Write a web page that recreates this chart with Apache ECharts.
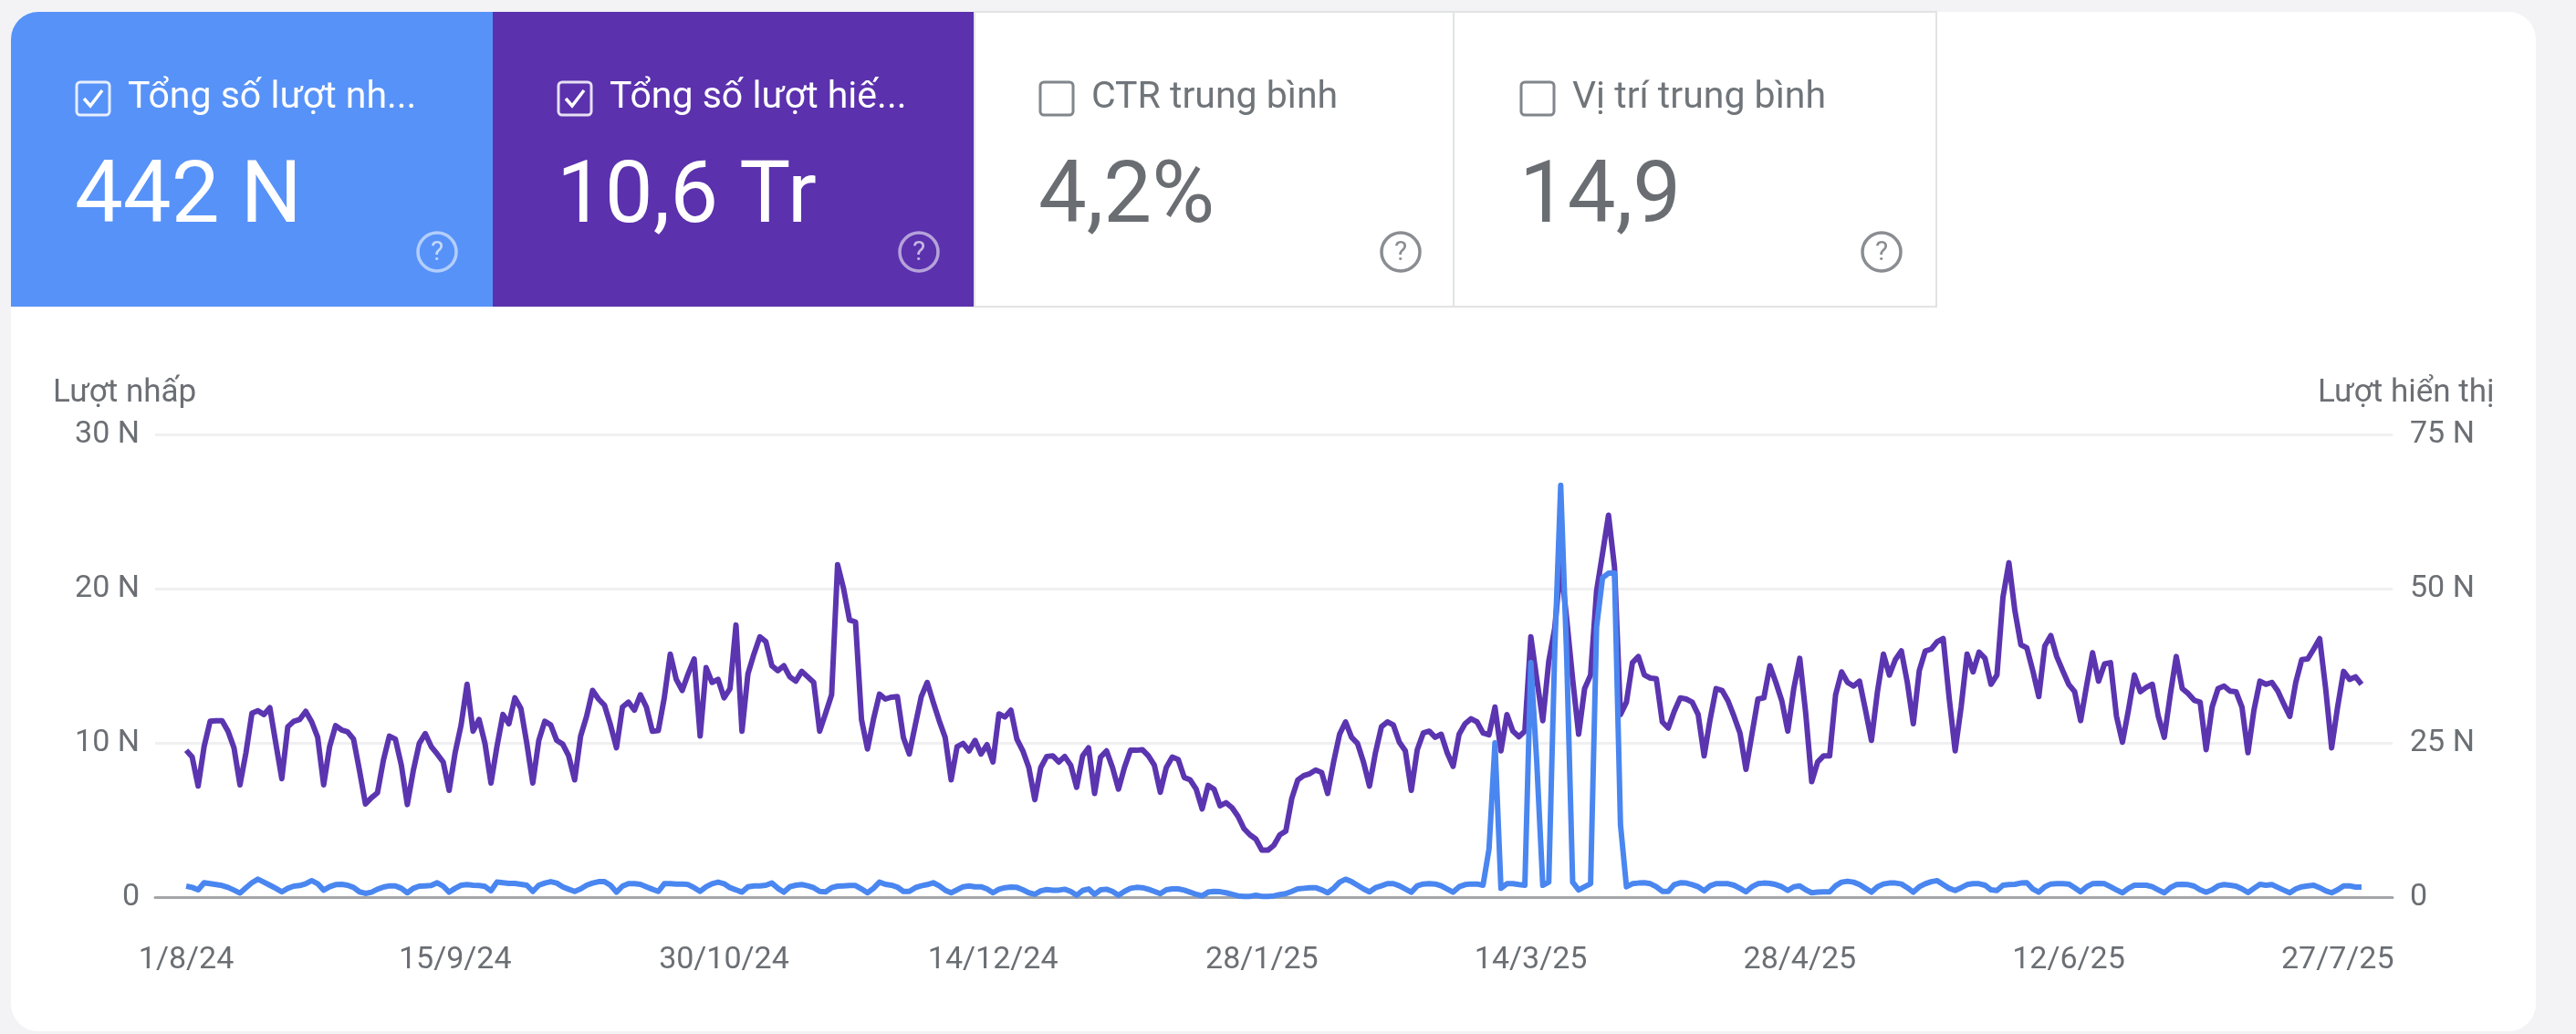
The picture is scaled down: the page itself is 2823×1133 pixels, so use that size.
<!DOCTYPE html>
<html>
<head>
<meta charset="utf-8">
<title>Search Console</title>
<script src="https://cdn.jsdelivr.net/npm/echarts@6/dist/echarts.min.js"></script>
<style>
html, body { margin: 0; padding: 0; background: #f3f3f6; }
#chart { width: 2823px; height: 1133px; }
</style>
</head>
<body>
<div id="chart"></div>
<script>
let tileTitles = ["Tổng số lượt nh...", "Tổng số lượt hiế...", "CTR trung bình", "Vị trí trung bình"];
let tileValues = ["442 N", "10,6 Tr", "4,2%", "14,9"];
let tileChecked = [true, true, false, false];
let tileColors = ["#5792f8", "#5b31ad", "#ffffff", "#ffffff"];

let dateLabels = ["1/8/24", "15/9/24", "30/10/24", "14/12/24", "28/1/25", "14/3/25", "28/4/25", "12/6/25", "27/7/25"];
let labelStep = 45; // một nhãn mỗi 45 ngày

let clicksName = "Lượt nhấp";
let impressionsName = "Lượt hiển thị";

// lượt nhấp theo ngày, đơn vị nghìn (trục trái)
let clicks = [
    .71,.63,.47,.93,.87,.81,.75,.63,.45,.26,
    .61,.93,1.16,.97,.77,.57,.34,.57,.71,.75,
    .87,1.07,.87,.45,.67,.81,.83,.77,.63,.34,
    .24,.32,.51,.65,.73,.73,.57,.28,.57,.71,
    .73,.75,.93,.71,.32,.57,.77,.81,.77,.75,
    .69,.41,.97,.93,.89,.89,.83,.77,.37,.77,
    .91,1.0,.91,.67,.51,.37,.53,.77,.91,1.0,
    1.0,.77,.32,.71,.87,.87,.83,.67,.51,.37,
    .87,.87,.85,.85,.81,.61,.37,.67,.87,.97,
    .87,.61,.47,.32,.67,.73,.73,.77,.91,.57,
    .32,.67,.77,.81,.73,.61,.37,.34,.61,.71,
    .73,.75,.75,.53,.28,.57,.97,.83,.77,.65,
    .37,.37,.61,.73,.81,.93,.73,.45,.28,.47,
    .67,.73,.67,.67,.53,.28,.51,.61,.65,.63,
    .47,.28,.18,.41,.49,.45,.45,.51,.37,.12,
    .43,.53,.18,.47,.51,.37,.12,.37,.57,.63,
    .61,.51,.37,.22,.47,.53,.53,.45,.32,.18,
    .08,.32,.37,.35,.28,.18,.08,.05,.05,.12,
    .05,.05,.08,.16,.22,.37,.53,.57,.61,.61,
    .47,.28,.57,.97,1.16,1.0,.77,.53,.34,.61,
    .73,.87,.87,.73,.53,.32,.73,.85,.87,.85,
    .73,.53,.32,.67,.81,.85,.85,.77,3.1,10.0,
    .57,.87,.87,.81,.77,15.2,8.7,.77,.97,16.0,
    26.7,15.6,.97,.47,.67,.87,17.5,20.7,21.0,21.0,
    4.7,.67,.87,.91,.93,.87,.67,.37,.37,.81,
    .93,.91,.81,.67,.41,.73,.87,.87,.87,.77,
    .57,.34,.67,.87,.91,.89,.81,.67,.43,.67,
    .73,.47,.28,.32,.34,.34,.73,.97,1.03,.97,
    .81,.57,.32,.67,.85,.91,.91,.85,.61,.32,
    .67,.87,1.0,1.07,.81,.57,.43,.61,.81,.87,
    .87,.77,.47,.43,.77,.81,.83,.91,.93,.53,
    .32,.67,.85,.87,.87,.85,.61,.34,.67,.87,
    .89,.87,.67,.47,.28,.57,.77,.77,.77,.67,
    .47,.28,.61,.81,.83,.81,.71,.47,.32,.47,
    .73,.81,.77,.71,.53,.30,.57,.83,.77,.81,
    .63,.45,.28,.53,.67,.73,.77,.61,.41,.28,
    .47,.73,.73,.65,.65
];

// lượt hiển thị theo ngày, đơn vị nghìn (trục phải)
let impressions = [
    23.8,22.7,18.0,24.4,28.5,28.6,28.6,26.9,24.2,18.2,
    23.4,29.8,30.2,29.6,30.7,24.9,19.2,27.6,28.5,28.8,
    30.1,28.4,25.9,18.2,24.4,27.8,27.1,26.8,25.6,20.5,
    15.1,16.1,16.9,22.2,26.1,25.6,21.4,15.0,20.5,24.9,
    26.5,24.4,23.2,21.9,17.3,23.4,27.9,34.5,26.9,28.8,
    24.9,18.5,24.4,29.6,28.1,32.3,30.6,24.9,18.5,25.4,
    28.5,27.9,25.4,24.8,22.9,19.0,26.1,29.3,33.5,32.1,
    31.1,27.9,24.2,30.8,31.6,30.3,32.8,30.8,26.9,27.0,
    32.3,39.4,35.3,33.5,36.2,38.6,26.1,37.2,34.8,35.3,
    32.3,33.8,44.1,26.9,36.2,39.4,42.2,41.4,37.5,36.7,
    37.5,35.7,35.0,36.6,35.7,34.8,26.9,29.8,32.8,53.9,
    50.0,44.9,44.6,28.8,24.0,28.8,32.9,32.1,32.4,32.5,
    25.9,23.2,27.9,32.5,34.8,31.6,28.6,25.9,19.0,24.4,
    24.9,23.7,25.4,23.2,24.7,21.9,29.7,29.2,30.3,25.6,
    23.7,21.0,15.8,21.0,22.8,22.9,21.9,22.8,21.4,17.8,
    22.9,24.2,16.8,22.7,23.7,21.0,17.5,21.0,23.8,23.8,
    23.9,22.9,21.4,17.0,21.0,22.7,22.3,19.4,19.0,17.5,
    14.3,18.1,17.5,14.8,15.3,14.5,13.1,11.1,10.1,9.4,
    7.6,7.6,8.4,10.1,10.7,16.0,19.0,19.7,20.0,20.6,
    20.2,16.8,21.9,26.4,28.4,25.9,24.9,21.9,18.0,23.4,
    27.6,28.4,27.9,25.1,23.7,17.3,23.9,26.6,26.9,25.9,
    26.4,23.4,21.2,26.4,28.1,28.9,28.4,26.6,26.3,30.8,
    23.7,29.6,26.9,26.0,26.9,42.2,35.3,28.6,38.2,43.6,
    54.0,45.1,35.3,26.4,33.8,36.0,49.6,55.7,61.9,53.5,
    29.6,31.6,38.0,39.0,36.0,35.5,35.4,28.4,27.4,30.1,
    32.3,32.1,31.6,29.6,22.9,28.8,33.8,33.5,31.8,29.3,
    26.6,20.7,26.4,32.1,32.3,37.5,34.8,31.8,26.9,33.8,
    38.7,29.8,18.7,21.9,22.9,22.9,32.8,36.5,34.8,34.2,
    35.0,30.3,25.4,33.3,39.4,36.0,38.5,39.9,34.8,28.1,
    36.7,39.9,40.2,41.4,41.9,32.3,23.7,30.8,39.4,36.5,
    39.7,38.7,34.5,36.0,48.6,54.2,46.4,40.9,40.4,36.7,
    32.5,40.7,42.4,39.0,36.7,34.5,33.3,28.6,34.3,39.6,
    35.0,37.8,38.0,29.3,25.1,30.3,36.0,33.3,34.0,34.5,
    29.3,25.9,32.8,39.0,33.8,33.0,31.9,31.6,23.9,30.8,
    33.8,34.2,33.4,33.3,30.8,23.4,30.3,35.0,34.5,34.8,
    33.4,31.3,29.3,34.8,38.5,38.6,40.2,41.9,33.8,24.2,
    30.8,36.6,35.3,35.7,34.5
];

let FONT = "Roboto";
let GRAY_TEXT = "#6b6f74";

function tileGraphics(i) {
    let edge = [12, 540, 1068, 1593][i];
    let right = [540, 1068, 1593, 2122][i];
    let left = i === 3 ? edge + 2 : edge;
    let top = 13, bottom = 336;
    let filled = tileChecked[i];
    let fg = filled ? "#ffffff" : "#70757a";
    let res = [];
    res.push({
        type: "rect",
        shape: { x: edge, y: top, width: right - edge, height: bottom - top, r: i === 0 ? [30, 0, 0, 0] : 0 },
        style: { fill: tileColors[i], stroke: filled ? null : "#e2e3e5", lineWidth: filled ? 0 : 2 }
    });
    // checkbox
    res.push({
        type: "rect",
        shape: { x: left + 72, y: 90, width: 36, height: 36, r: 4 },
        style: { fill: "none", stroke: filled ? "rgba(255,255,255,0.85)" : "#80868b", lineWidth: 3 }
    });
    if (filled) {
        res.push({
            type: "polyline",
            shape: { points: [[left + 80, 108], [left + 87, 116], [left + 100, 99]] },
            style: { fill: "none", stroke: "#ffffff", lineWidth: 3.5 }
        });
    }
    res.push({
        type: "text",
        style: { x: left + 128, y: 108, text: tileTitles[i], fill: fg, font: "41px " + FONT, textVerticalAlign: "middle" }
    });
    res.push({
        type: "text",
        style: { x: left + 70, y: 219, text: tileValues[i], fill: filled ? "#ffffff" : "#6a6e73", font: "94px " + FONT, textVerticalAlign: "middle" }
    });
    // dấu hỏi trợ giúp
    res.push({
        type: "circle",
        shape: { cx: left + 467, cy: 276, r: 21 },
        style: { fill: "none", stroke: filled ? "rgba(255,255,255,0.55)" : "#8a8e92", lineWidth: 3.5 }
    });
    res.push({
        type: "text",
        style: { x: left + 467, y: 277, text: "?", fill: filled ? "rgba(255,255,255,0.65)" : "#8a8e92", font: "30px " + FONT, textAlign: "center", textVerticalAlign: "middle" }
    });
    return res;
}

let bg = [{
    type: "rect",
    z: -10,
    shape: { x: 12, y: 13, width: 2767, height: 1117, r: 30 },
    style: { fill: "#ffffff" }
}];
let tiles = [];
for (let i = 0; i < tileTitles.length; i++) {
    tiles = tiles.concat(tileGraphics(i));
}

let tickDays = dateLabels.map((d, i) => i * labelStep);
let clicksData = clicks.map((v, i) => [i, v]);
let impressionsData = impressions.map((v, i) => [i, v]);

function kLabel(v) {
    return v === 0 ? "0" : v + " N";
}

let myChart = echarts.init(document.getElementById("chart"));
let option = {
    animation: false,
    textStyle: { fontFamily: FONT },
    graphic: bg.concat(tiles),
    // v6 mặc định co grid để giữ nhãn trong khung, ở đây cần vị trí cố định
    grid: { left: 170, right: 201, top: 476, bottom: 150, outerBoundsMode: "none" },
    xAxis: {
        type: "value",
        min: -5.2,
        max: 369.2,
        splitLine: { show: false },
        axisTick: { show: false },
        axisLine: { show: true, onZero: true, lineStyle: { color: "#a3a6a9", width: 3 } },
        axisLabel: {
            customValues: tickDays,
            margin: 52,
            fontSize: 34,
            color: GRAY_TEXT,
            formatter: function (v) { return dateLabels[v / labelStep]; }
        }
    },
    yAxis: [
        {
            type: "value",
            min: 0,
            max: 30,
            interval: 10,
            name: clicksName,
            nameLocation: "end",
            nameGap: 27,
            nameTextStyle: { fontSize: 35, color: GRAY_TEXT, align: "left", padding: [0, 0, 0, -146] },
            axisLine: { show: false },
            axisTick: { show: false },
            axisLabel: { margin: 17, fontSize: 34, color: GRAY_TEXT, padding: [14, 0, 0, 0], formatter: kLabel },
            splitLine: { lineStyle: { color: "#f0f0f1", width: 3 } }
        },
        {
            type: "value",
            min: 0,
            max: 75,
            interval: 25,
            name: impressionsName,
            nameLocation: "end",
            nameGap: 27,
            nameTextStyle: { fontSize: 35, color: GRAY_TEXT, align: "left", padding: [0, 0, 0, -82] },
            axisLine: { show: false },
            axisTick: { show: false },
            axisLabel: { margin: 19, fontSize: 34, color: GRAY_TEXT, padding: [14, 0, 0, 0], formatter: kLabel },
            splitLine: { show: false }
        }
    ],
    series: [
        {
            name: impressionsName,
            type: "line",
            yAxisIndex: 1,
            showSymbol: false,
            data: impressionsData,
            lineStyle: { color: "#5b35b0", width: 6, join: "round" }
        },
        {
            name: clicksName,
            type: "line",
            yAxisIndex: 0,
            showSymbol: false,
            data: clicksData,
            lineStyle: { color: "#4a86f0", width: 6, join: "round" }
        }
    ]
};
myChart.setOption(option);
</script>
</body>
</html>
